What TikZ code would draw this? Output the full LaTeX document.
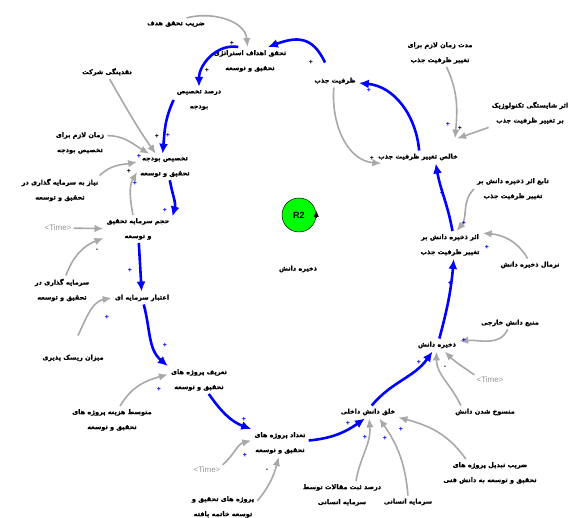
\documentclass[tikz,border=0pt]{standalone}
\usepackage{fontspec}
\setmainfont{Liberation Sans}
\newfontfamily\arabicfont[Script=Arabic, BoldFeatures={FakeBold=0.8}]{DejaVu Sans}
\TeXXeTstate=1
\usetikzlibrary{arrows.meta}
\definecolor{loopblue}{rgb}{0,0,1}
\definecolor{linkgray}{rgb}{0.66,0.66,0.66}
\definecolor{timegray}{rgb}{0.58,0.58,0.58}
\definecolor{loopgreen}{rgb}{0,1,0}
\newcommand{\fa}[1]{\beginR #1\endR}

\begin{document}
\begin{tikzpicture}[x=1pt, y=1pt,
  vname/.style={font=\arabicfont\bfseries\fontsize{6.5}{15}\selectfont, align=center, inner sep=3pt},
  timevar/.style={font=\fontsize{8}{9}\selectfont, text=timegray, inner sep=2pt},
  bluelink/.style={draw=loopblue, line width=2.6pt, -{Latex[length=10pt,width=9pt]}},
  graylink/.style={draw=linkgray, line width=1.6pt, -{Latex[length=9pt,width=7.5pt]}},
  polblue/.style={text=loopblue, font=\bfseries\fontsize{7}{7}\selectfont, inner sep=0pt},
  polblack/.style={text=black, font=\bfseries\fontsize{7}{7}\selectfont, inner sep=0pt}]
  \useasboundingbox (0,0) rectangle (579,518);
  % Variablen
  \node[vname] (zarib) at (176,494) {\fa{ضریب تحقق هدف}};
  \node[vname] (tahaghogh) at (250,457) {\fa{تحقق اهداف استراتژی}\\\fa{تحقیق و توسعه}};
  \node[vname] (zarfiat) at (335,437) {\fa{ظرفیت جذب}};
  \node[vname] (modat) at (440,465) {\fa{مدت زمان لازم برای}\\\fa{تغییر ظرفیت جذب}};
  \node[vname] (shayestegi) at (530,405) {\fa{اثر شایستگی تکنولوژیک}\\\fa{بر تغییر ظرفیت جذب}};
  \node[vname] (khales) at (418,361) {\fa{خالص تغییر ظرفیت جذب}};
  \node[vname] (tabe) at (513,329) {\fa{تابع اثر ذخیره دانش بر}\\\fa{تغییر ظرفیت جذب}};
  \node[vname] (asar) at (450,273) {\fa{اثر ذخیره دانش بر}\\\fa{تغییر ظرفیت جذب}};
  \node[vname] (normal) at (530,253) {\fa{نرمال ذخیره دانش}};
  \node[vname] (manba) at (510,195) {\fa{منبع دانش خارجی}};
  \node[vname] (zakhire) at (437,173) {\fa{ذخیره دانش}};
  \node[timevar] (time3) at (490,138) {<Time>};
  \node[vname] (mansookh) at (485,106) {\fa{منسوخ شدن دانش}};
  \node[vname] (khalgh) at (368,106) {\fa{خلق دانش داخلی}};
  \node[vname] (zaribtabdil) at (490,45) {\fa{ضریب تبدیل پروژه های}\\\fa{تحقیق و توسعه به دانش فنی}};
  \node[vname] (sarmaye) at (408,16) {\fa{سرمایه انسانی}};
  \node[vname] (dars) at (342,23) {\fa{درصد ثبت مقالات توسط}\\\fa{سرمایه انسانی}};
  \node[vname] (tedad) at (280,75) {\fa{تعداد پروژه های}\\\fa{تحقیق و توسعه}};
  \node[timevar] (time2) at (207,48) {<Time>};
  \node[vname] (khatme) at (223,11) {\fa{پروژه های تحقیق و}\\\fa{توسعه خاتمه یافته}};
  \node[vname] (tarif) at (199,138) {\fa{تعریف پروژه های}\\\fa{تحقیق و توسعه}};
  \node[vname] (motevaset) at (112,98) {\fa{متوسط هزینه پروژه های}\\\fa{تحقیق و توسعه}};
  \node[vname] (etebar) at (142,220) {\fa{اعتبار سرمایه ای}};
  \node[vname] (risk) at (73,160) {\fa{میزان ریسک پذیری}};
  \node[vname] (sarmayegozari) at (62,228) {\fa{سرمایه گذاری در}\\\fa{تحقیق و توسعه}};
  \node[vname] (hajm) at (138,289) {\fa{حجم سرمایه تحقیق}\\\fa{و توسعه}};
  \node[timevar] (time1) at (58,290) {<Time>};
  \node[vname] (niaz) at (60,328) {\fa{نیاز به سرمایه گذاری در}\\\fa{تحقیق و توسعه}};
  \node[vname] (takhsis) at (165,351) {\fa{تخصیص بودجه}\\\fa{تحقیق و توسعه}};
  \node[vname] (zaman) at (80,375) {\fa{زمان لازم برای}\\\fa{تخصیص بودجه}};
  \node[vname] (naghdinegi) at (107,446) {\fa{نقدینگی شرکت}};
  \node[vname] (darsad) at (199,418) {\fa{درصد تخصیص}\\\fa{بودجه}};
  % Schleife R2
  \node[circle, fill=loopgreen, draw=black, line width=0.5pt, minimum size=34pt, inner sep=0pt, font=\bfseries\fontsize{9}{9}\selectfont] (r2) at (299,303) {R2};
  \draw[line width=0.5pt, -{Triangle[length=6pt,width=5pt]}] ([yshift=-3]r2.east) -- ([yshift=4]r2.east);
  \node[vname] (r2name) at (298,249) {\fa{ذخیره دانش}};
  % Hauptschleife (blau)
  \draw[bluelink] ([shift={(-10,12)}]zarfiat.north) to[out=115,in=20,looseness=1.3] (tahaghogh.38);
  \draw[bluelink] (tahaghogh.130) to[out=170,in=90] (darsad);
  \draw[bluelink] (darsad.west) to[out=-115,in=85] (takhsis.100);
  \draw[bluelink] (takhsis.-70) to[out=-80,in=75] (hajm.20);
  \draw[bluelink] (hajm) -- (etebar);
  \draw[bluelink] (etebar) to[out=-75,in=140] (tarif.north west);
  \draw[bluelink] (tarif) to[out=-55,in=160] (tedad.north west);
  \draw[bluelink] (tedad) to[out=5,in=-145] (khalgh.-115);
  \draw[bluelink] (khalgh.60) to[out=50,in=-125] (zakhire);
  \draw[bluelink] (zakhire.70) to[out=75,in=-95] (asar.-75);
  \draw[bluelink] (asar.80) to[out=100,in=-80] (khales.-20);
  \draw[bluelink] (khales.80) to[out=95,in=-5] (zarfiat);
  % Einflussgroessen (grau)
  \draw[graylink] (zarib.30) to[out=15,in=95] (tahaghogh.100);
  \draw[graylink] (naghdinegi.-70) to[out=-60,in=125] (takhsis.125);
  \draw[graylink] (zaman.15) to[out=0,in=150] (takhsis.140);
  \draw[graylink] (niaz.20) to[out=45,in=190] (takhsis.170);
  \draw[graylink] (hajm.110) to[out=100,in=-120] (takhsis.-170);
  \draw[graylink] (time1) -- (hajm);
  \draw[graylink] (sarmayegozari.75) to[out=70,in=200] (hajm.195);
  \draw[graylink] ([shift={(5,16)}]risk.north) to[out=65,in=190] (etebar.west);
  \draw[graylink] (motevaset.60) to[out=60,in=195] (tarif.170);
  \draw[graylink] (time2.north east) to[out=40,in=195] (tedad.175);
  \draw[graylink] (khatme.10) to[out=50,in=-105] (tedad.-95);
  \draw[graylink] (dars.45) to[out=80,in=-85] (khalgh.-80);
  \draw[graylink] (sarmaye.north) to[out=95,in=-55] (khalgh.-30);
  \draw[graylink] (zaribtabdil.150) to[out=125,in=-15] (khalgh.-10);
  \draw[graylink] (manba.-110) to[out=-115,in=5] (zakhire.10);
  \draw[graylink] (time3.north west) to[out=145,in=-45] (zakhire.-40);
  \draw[graylink] (mansookh.165) to[out=115,in=-90] (zakhire.-95);
  \draw[graylink] (tabe.west) to[out=-135,in=50] (asar.65);
  \draw[graylink] (normal.110) to[out=120,in=-5] (asar.20);
  \draw[graylink] (modat.-65) to[out=-65,in=85] ([shift={(-6,12)}]khales.north east);
  \draw[graylink] (shayestegi.south west) -- ([shift={(-4,12)}]khales.north east);
  \draw[graylink] (zarfiat.-100) to[out=-95,in=175] (khales.190);
  % Polaritaeten
  \foreach \px/\py [count=\i] in {168/383,139/362,135/335,165/308,130/248,107/201,165/173,159/129,244/99,245/63,348/95,365/81,385/80,401/89,419/156,464/178,450/235,464/295,487/271,442/325,448/394,369/428}
    \node[polblue] (pb\i) at (\px,\py) {+};
  \foreach \px/\py [count=\i] in {311/456,232/475,207/448,157/382,129/347,372/360,460/390}
    \node[polblack] (pk\i) at (\px,\py) {+};
  \foreach \px/\py [count=\i] in {97/268,267/48,445/151}
    \node[polblack] (pm\i) at (\px,\py) {-};
\end{tikzpicture}
\end{document}
